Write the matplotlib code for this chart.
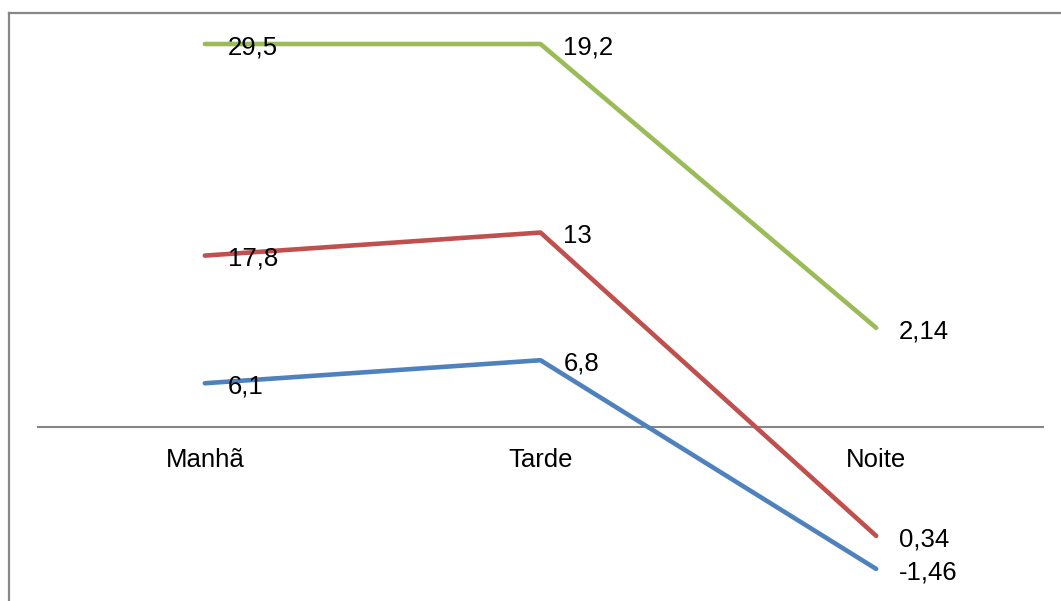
import matplotlib
matplotlib.use("Agg")
import matplotlib.pyplot as plt
from matplotlib.lines import Line2D
import numpy as np

plt.rcParams['font.family'] = ['Liberation Sans', 'DejaVu Sans']

categories = ["Manhã", "Tarde", "Noite"]
serie_azul = [6.1, 6.8, -1.46]
serie_vermelha = [17.8, 13, 0.34]
serie_verde = [29.5, 19.2, 2.14]

series = [serie_azul, serie_vermelha, serie_verde]
colors = ["#4F81BD", "#C0504D", "#9BBB59"]

W, H = 1061, 601
fig = plt.figure(figsize=(W / 100, H / 100), dpi=100)

# plot area in pixels
x_left, x_right = 37, 1044
y_zero, y_full = 427, 44
per = y_zero - y_full
ymin, ymax = -0.45, 1.05
top_px = y_full - (ymax - 1.0) * per
bot_px = y_zero - ymin * per
ax = fig.add_axes([x_left / W, 1 - bot_px / H, (x_right - x_left) / W, (bot_px - top_px) / H])
ax.set_xlim(-0.5, 2.5)
ax.set_ylim(ymin, ymax)
ax.axis('off')

# 100% stacked line: share of sum of absolute values
vals = np.array(series, dtype=float)
totals = np.abs(vals).sum(axis=0)
cum = np.cumsum(vals, axis=0) / totals

x = np.arange(len(categories))
ax.axhline(0, color="#868686", lw=1.5, zorder=1)

for i, (s, c) in enumerate(zip(series, colors)):
    ax.plot(x, cum[i], color=c, lw=3.3, solid_capstyle='round', solid_joinstyle='round', zorder=2)
    for xi, yi, v in zip(x, cum[i], s):
        lab = f"{v:g}".replace(".", ",")
        ax.annotate(lab, (xi, yi), xytext=(16.5, -7.5), textcoords='offset points',
                    ha='left', va='baseline', fontsize=18.5, color='black', zorder=3)

for xi, cat in zip(x, categories):
    ax.annotate(cat, (xi, 0), xytext=(0, -29), textcoords='offset points',
                ha='center', va='baseline', fontsize=18.5, color='black')

# outer chart border (cropped frame)
fig.add_artist(Line2D([9 / W, 1.0], [1 - 13 / H, 1 - 13 / H], color="#888888", lw=1.6, transform=fig.transFigure))
fig.add_artist(Line2D([9 / W, 9 / W], [0, 1 - 13 / H], color="#888888", lw=1.6, transform=fig.transFigure))

fig.savefig("out.png", dpi=100)
